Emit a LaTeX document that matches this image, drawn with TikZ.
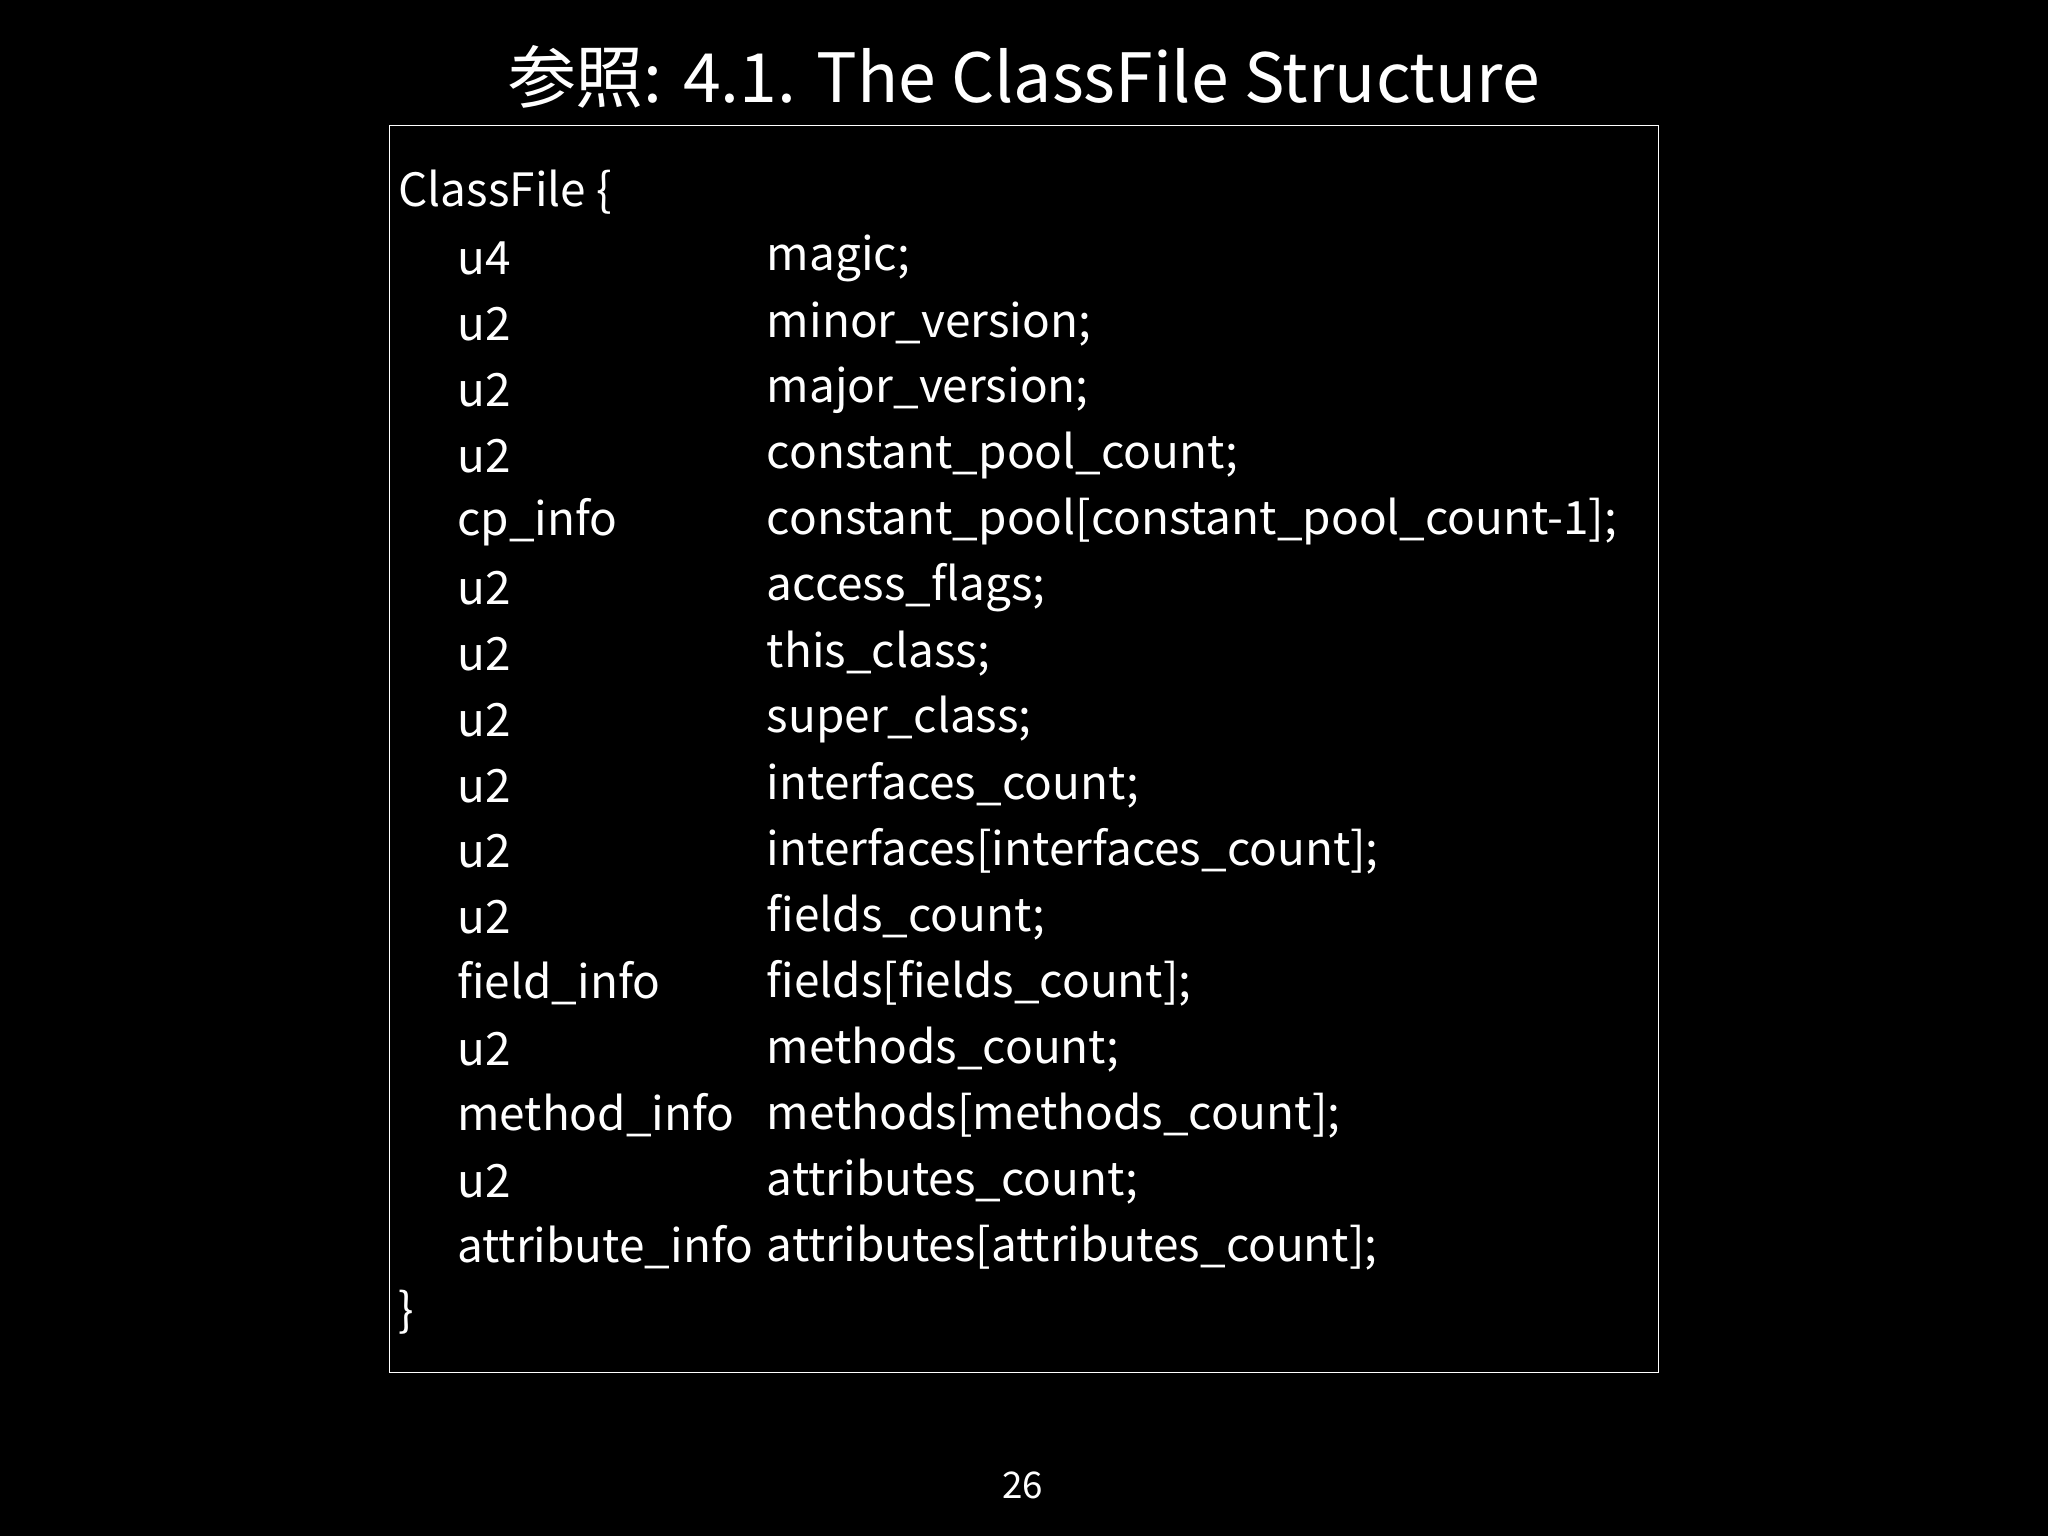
\documentclass[tikz,border=0pt]{standalone}
\usepackage{fontspec}
\setmainfont{Noto Sans CJK JP}
\begin{document}
\begin{tikzpicture}[x=0.05cm,y=-0.05cm,
  txt/.style={anchor=west,inner sep=0pt,text=white,font=\fontsize{50}{52}\selectfont}]
\fill[black] (0,0) rectangle (1568,1176);
\useasboundingbox (0,0) rectangle (1568,1176);
\node[text=white,font=\fontsize{74}{78}\selectfont,inner sep=0pt] (title) at (784,59) {参照: 4.1. The ClassFile Structure};
\draw[white,line width=1.2pt] (298,96) rectangle (1270,1051);
\node[txt] (h) at (305,147) {ClassFile \{};
\foreach \i/\a/\b in {1/u4/magic;,2/u2/minor\_version;,3/u2/major\_version;,4/u2/constant\_pool\_count;,5/cp\_info/constant\_pool[constant\_pool\_count-1];,6/u2/access\_flags;,7/u2/this\_class;,8/u2/super\_class;,9/u2/interfaces\_count;,10/u2/interfaces[interfaces\_count];,11/u2/fields\_count;,12/field\_info/fields[fields\_count];,13/u2/methods\_count;,14/method\_info/methods[methods\_count];,15/u2/attributes\_count;,16/attribute\_info/attributes[attributes\_count];}{
  \node[txt] (t\i) at (350,{147+50.5*\i}) {\a};
  \node[txt] (n\i) at (587,{147+50.5*\i}) {\b};
}
\node[txt] (e) at (305,1005) {\}};
\node[text=white,font=\fontsize{40}{42}\selectfont,inner sep=0pt] (pg) at (783,1137) {26};
\end{tikzpicture}
\end{document}
